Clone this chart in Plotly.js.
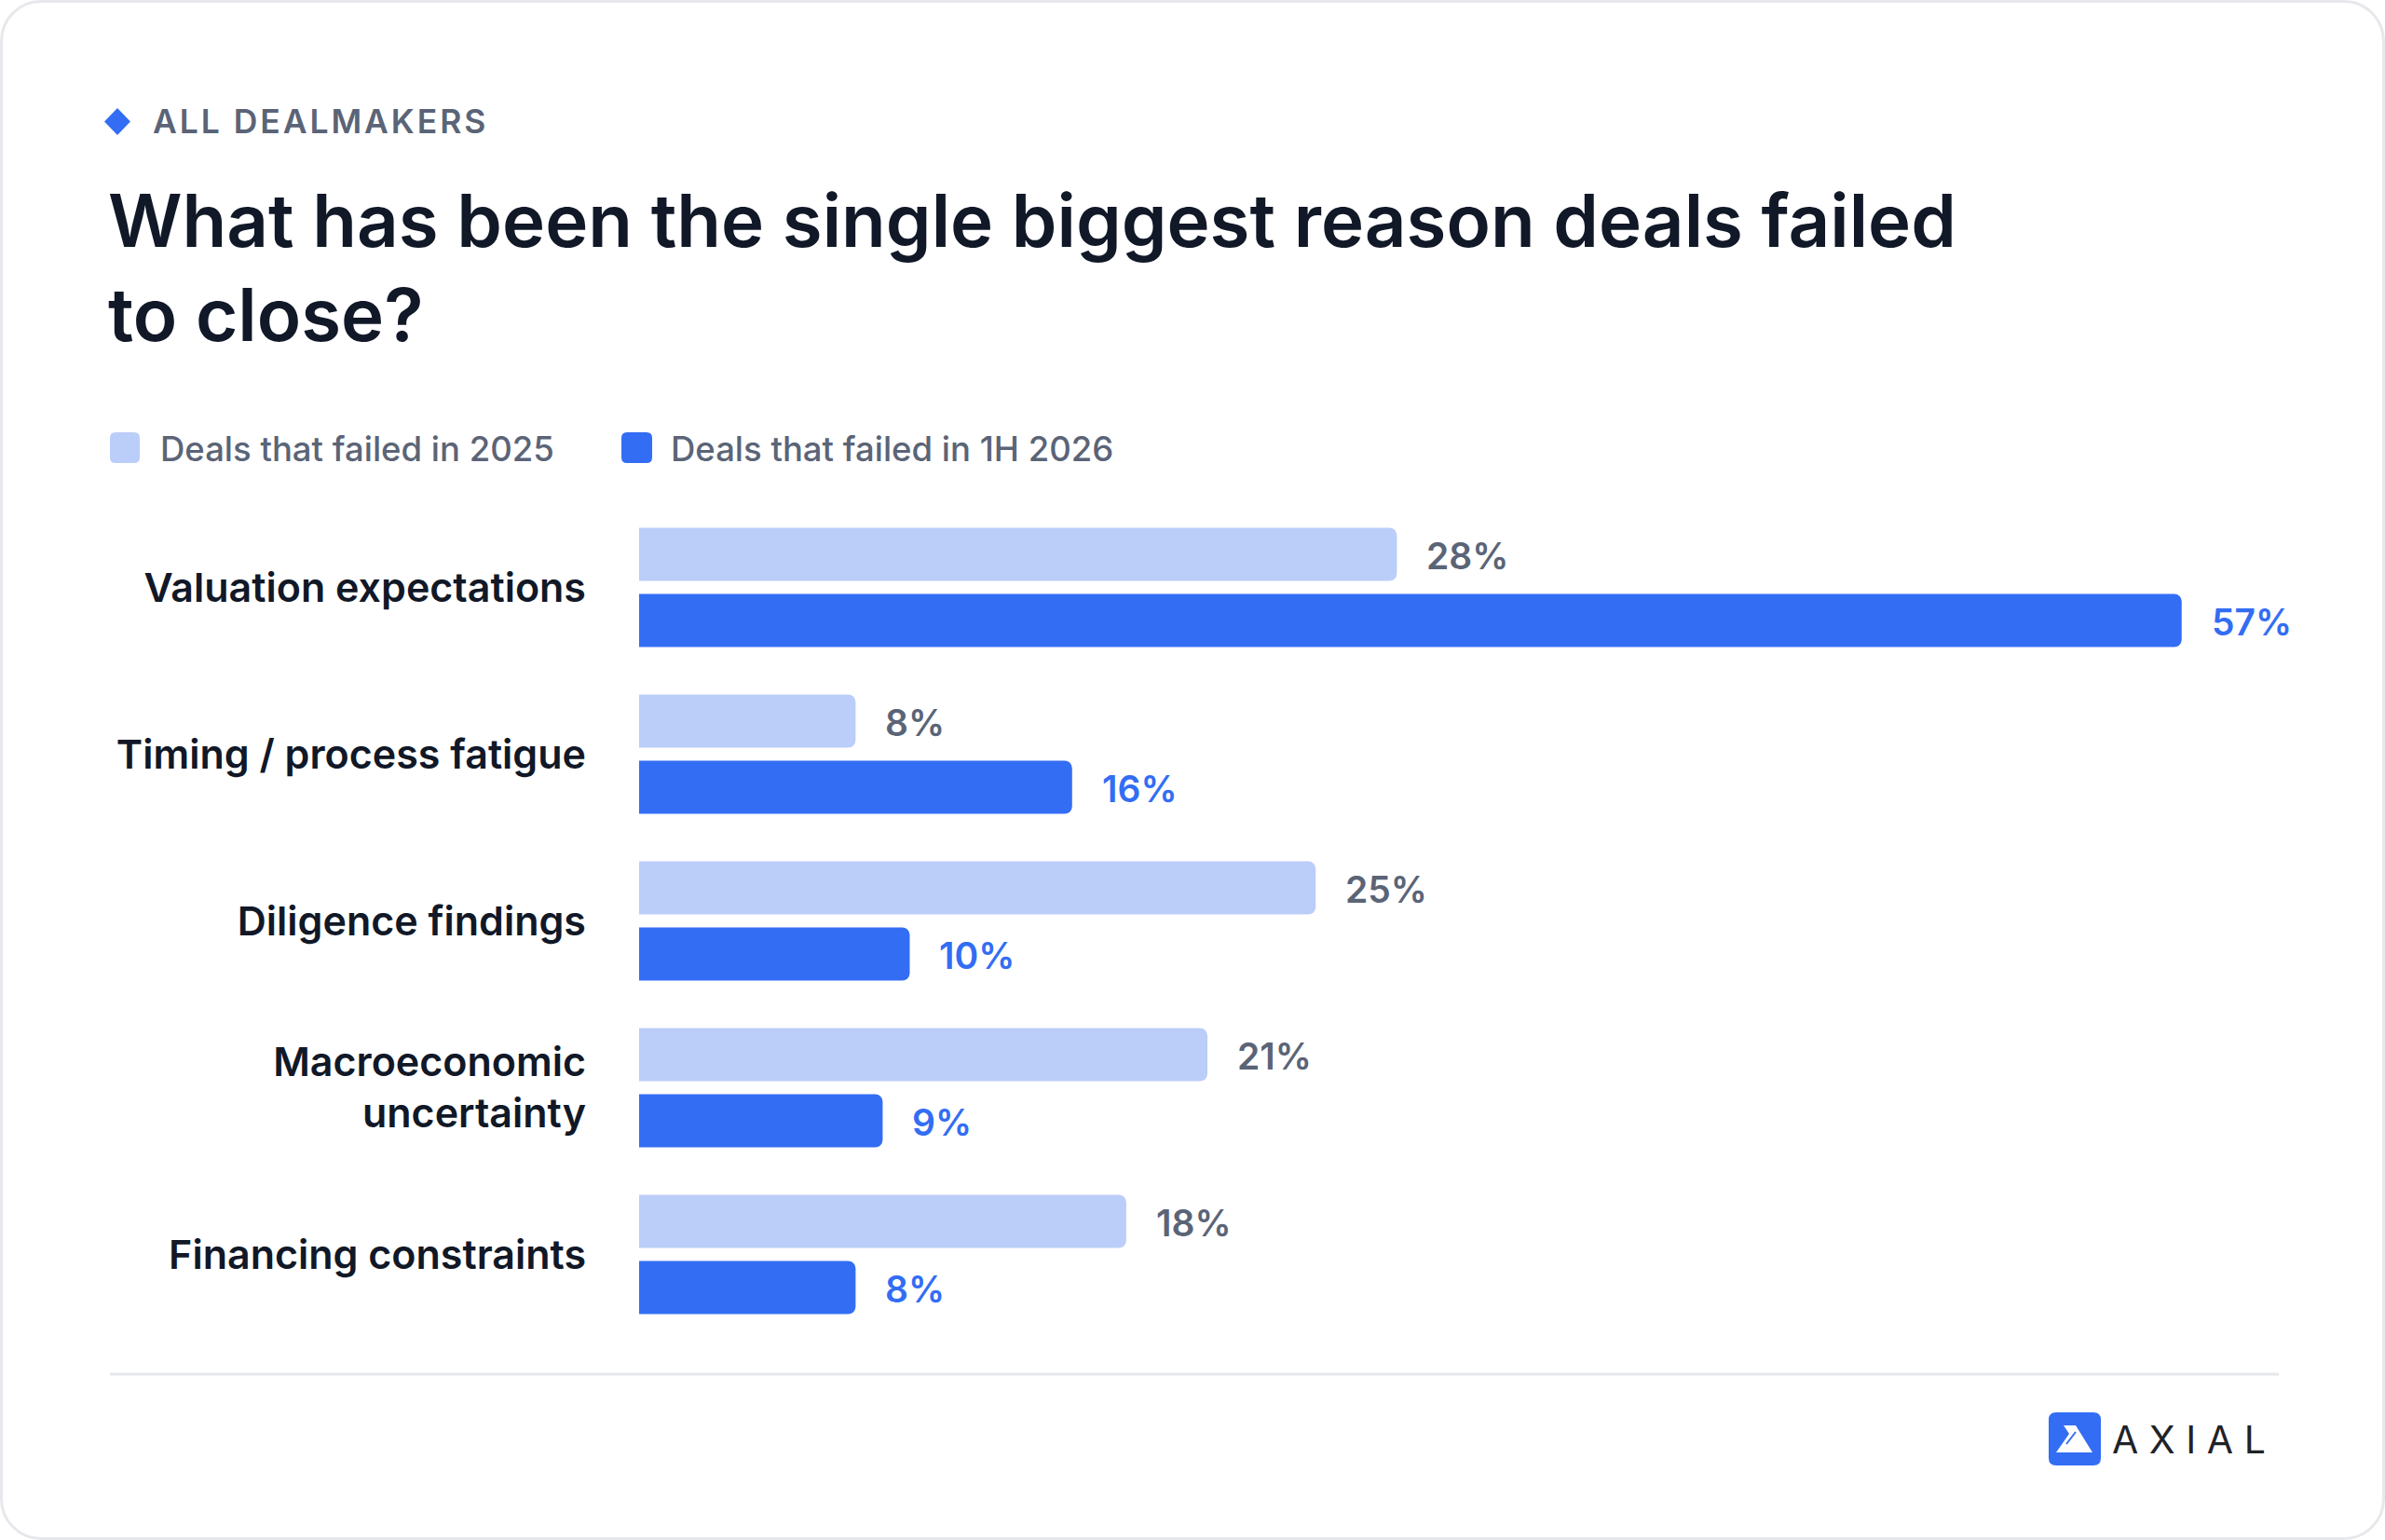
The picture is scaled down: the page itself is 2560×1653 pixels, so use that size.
<!DOCTYPE html>
<html>
<head>
<meta charset="utf-8">
<script src="https://cdn.plot.ly/plotly-3.0.1.min.js"></script>
<style>
  html, body { margin: 0; padding: 0; background: #ffffff; }
  #card { position: absolute; left: 0; top: 0; width: 2560px; height: 1653px; box-sizing: border-box;
          border: 3px solid #e6e8ec; border-radius: 44px; background: #ffffff; }
  #chart { position: absolute; left: 0; top: 0; width: 2560px; height: 1653px; }
</style>
</head>
<body>
<div id="card"></div>
<div id="chart"></div>
<script>
// data
var categories = ['Valuation expectations', 'Timing / process fatigue', 'Diligence findings',
                  'Macroeconomic<br>uncertainty', 'Financing constraints'];
var failed_2025 = [28, 8, 25, 21, 18];
var failed_1h2026 = [57, 16, 10, 9, 8];
var series_names = ['Deals that failed in 2025', 'Deals that failed in 1H 2026'];
var kicker = 'ALL DEALMAKERS';
var title_text = 'What has been the single biggest reason deals failed<br>to close?';
var brand = 'AXIAL';

var LIGHT = '#bbcdf9', BLUE = '#336df4', GREY = '#5b6477', INK = '#111827';
var FONT = 'Inter, "Noto Sans", sans-serif';
var HAIR = '\u200A';

var FIG_W = 2560, FIG_H = 1653;
var M = { l: 686, r: 134, t: 541, b: 217, pad: 0 };

// pixel -> paper helpers for the decorations
function px(x) { return (x - M.l) / (FIG_W - M.l - M.r); }
function py(y) { return 1 - (y - M.t) / (FIG_H - M.t - M.b); }
function roundRect(x0, y0, x1, y1, r) {
    return 'M' + px(x0 + r) + ',' + py(y0) +
           ' L' + px(x1 - r) + ',' + py(y0) +
           ' Q' + px(x1) + ',' + py(y0) + ' ' + px(x1) + ',' + py(y0 + r) +
           ' L' + px(x1) + ',' + py(y1 - r) +
           ' Q' + px(x1) + ',' + py(y1) + ' ' + px(x1 - r) + ',' + py(y1) +
           ' L' + px(x0 + r) + ',' + py(y1) +
           ' Q' + px(x0) + ',' + py(y1) + ' ' + px(x0) + ',' + py(y1 - r) +
           ' L' + px(x0) + ',' + py(y0 + r) +
           ' Q' + px(x0) + ',' + py(y0) + ' ' + px(x0 + r) + ',' + py(y0) + ' Z';
}
function poly(pts) {
    return pts.map(function (p, i) { return (i ? 'L' : 'M') + px(p[0]) + ',' + py(p[1]); }).join(' ') + ' Z';
}
function spaced(s, gap) { return s.split('').join(gap); }

var trace1 = { type: 'bar', orientation: 'h', y: categories, x: failed_2025, name: series_names[0],
               marker: { color: LIGHT, cornerradius: 8, line: { width: 0 } }, hoverinfo: 'skip' };
var trace2 = { type: 'bar', orientation: 'h', y: categories, x: failed_1h2026, name: series_names[1],
               marker: { color: BLUE, cornerradius: 8, line: { width: 0 } }, hoverinfo: 'skip' };

var annotations = [];
categories.forEach(function (c, i) {
    annotations.push({ xref: 'x', yref: 'y', x: failed_2025[i], y: c, text: failed_2025[i] + '%',
                       showarrow: false, xanchor: 'left', yanchor: 'middle', xshift: 30, yshift: 34.5,
                       font: { family: FONT, size: 39, weight: 600, color: GREY } });
    annotations.push({ xref: 'x', yref: 'y', x: failed_1h2026[i], y: c, text: failed_1h2026[i] + '%',
                       showarrow: false, xanchor: 'left', yanchor: 'middle', xshift: 30, yshift: -36.5,
                       font: { family: FONT, size: 39, weight: 600, color: BLUE } });
});

// header, legend, logo
annotations.push({ xref: 'paper', yref: 'paper', x: px(162), y: py(130), text: spaced(kicker, HAIR), showarrow: false,
                   xanchor: 'left', yanchor: 'middle', font: { family: FONT, size: 35.5, weight: 600, color: GREY } });
annotations.push({ xref: 'paper', yref: 'paper', x: px(114), y: py(287), text: title_text, showarrow: false,
                   xanchor: 'left', yanchor: 'middle', align: 'left',
                   font: { family: FONT, size: 78, weight: 600, color: INK } });
annotations.push({ xref: 'paper', yref: 'paper', x: px(170), y: py(482), text: series_names[0], showarrow: false,
                   xanchor: 'left', yanchor: 'middle', font: { family: FONT, size: 36.5, weight: 500, color: GREY } });
annotations.push({ xref: 'paper', yref: 'paper', x: px(718), y: py(482), text: series_names[1], showarrow: false,
                   xanchor: 'left', yanchor: 'middle', font: { family: FONT, size: 36.5, weight: 500, color: GREY } });
annotations.push({ xref: 'paper', yref: 'paper', x: px(2265), y: py(1545), text: spaced(brand, ' '), showarrow: false,
                   xanchor: 'left', yanchor: 'middle', font: { family: FONT, size: 41, weight: 400, color: '#1f2328' } });

var shapes = [
    { type: 'path', xref: 'paper', yref: 'paper', path: poly([[126, 116], [140, 130.5], [126, 145], [112, 130.5]]),
      fillcolor: BLUE, line: { width: 0 } },
    { type: 'path', xref: 'paper', yref: 'paper', path: roundRect(118, 464, 150, 497, 6), fillcolor: LIGHT, line: { width: 0 } },
    { type: 'path', xref: 'paper', yref: 'paper', path: roundRect(667, 464, 700, 497, 6), fillcolor: BLUE, line: { width: 0 } },
    { type: 'line', xref: 'paper', yref: 'paper', x0: px(118), x1: px(2446), y0: py(1475), y1: py(1475),
      line: { color: '#e5e7eb', width: 3 } },
    { type: 'path', xref: 'paper', yref: 'paper', path: roundRect(2199, 1516, 2255, 1573, 8), fillcolor: BLUE, line: { width: 0 } },
    { type: 'path', xref: 'paper', yref: 'paper',
      path: poly([[2215, 1530], [2228, 1530], [2246, 1559], [2207, 1559], [2221, 1539]]),
      fillcolor: '#ffffff', line: { width: 0 } },
    { type: 'line', xref: 'paper', yref: 'paper', x0: px(2218), y0: py(1550), x1: px(2228), y1: py(1537),
      line: { color: BLUE, width: 2 } }
];

var layout = {
    width: FIG_W, height: FIG_H,
    margin: M,
    paper_bgcolor: 'rgba(0,0,0,0)', plot_bgcolor: 'rgba(0,0,0,0)',
    barmode: 'group', bargap: 0.207, bargroupgap: 0.197,
    showlegend: false,
    xaxis: { range: [0, 59.9], visible: false, fixedrange: true },
    yaxis: { type: 'category', autorange: 'reversed', ticks: '', showgrid: false, zeroline: false, showline: false,
             ticklabelstandoff: 56, fixedrange: true,
             tickfont: { family: FONT, size: 43, weight: 600, color: INK } },
    annotations: annotations,
    shapes: shapes,
    font: { family: FONT }
};

var config = { displayModeBar: false, staticPlot: true };

Plotly.newPlot(document.getElementById('chart'), [trace1, trace2], layout, config);
</script>
</body>
</html>
